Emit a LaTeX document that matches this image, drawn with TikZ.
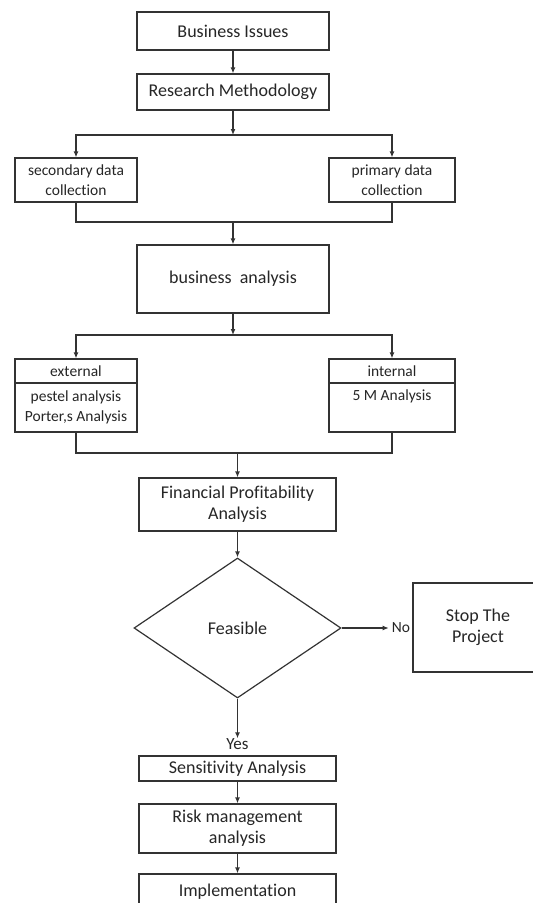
\documentclass[tikz,border=0pt]{standalone}
\usepackage{fontspec}
\setmainfont[Ligatures=NoCommon]{Carlito}
\usetikzlibrary{shapes.geometric,arrows.meta}
\begin{document}
\begin{tikzpicture}[x=1pt,y=-1pt]

\tikzstyle{box} = [draw=black!80, line width=1.2pt, fill=white, align=center,
  inner sep=0pt, text=black!85, font=\fontsize{18}{21}\selectfont]
\tikzstyle{sidebox} = [box, font=\fontsize{15.5}{20}\selectfont]
\tikzstyle{txt} = [anchor=center, text=black!85, inner sep=0pt,
  font=\fontsize{15.5}{20}\selectfont, align=center]
\tikzstyle{link} = [draw=black!80, line width=1.2pt]
\tikzstyle{arr} = [link, -{Latex[length=6pt,width=5pt]}]

\useasboundingbox (0,0) rectangle (533,903);

\node[box, at={(233,31)}, minimum width=192, minimum height=38] (issues) {Business Issues};
\node[box, at={(233,92)}, minimum width=192, minimum height=36] (method) {Research Methodology};
\node[sidebox, at={(76,180)}, minimum width=122, minimum height=44] (second) {secondary data\\collection};
\node[sidebox, at={(392,180)}, minimum width=126, minimum height=44] (primary) {primary data\\collection};
\node[box, at={(233,279)}, minimum width=192, minimum height=68] (busan) {business\ \ analysis};

% external / internal boxes with header row
\node[sidebox, at={(76,395.5)}, minimum width=122, minimum height=73] (ext) {};
\node[sidebox, at={(392,395.5)}, minimum width=126, minimum height=73] (int) {};
\draw[link] (ext.west |- 0,383) -- (ext.east |- 0,383);
\draw[link] (int.west |- 0,383) -- (int.east |- 0,383);
\node[txt, at={(76,371)}] (exthead) {external};
\node[txt, at={(76,407.5)}] (extbody) {pestel analysis\\Porter,s Analysis};
\node[txt, at={(392,371)}] (inthead) {internal};
\node[txt, at={(392,396)}] (intbody) {5 M Analysis};

\node[box, at={(237.5,504.5)}, minimum width=197, minimum height=53] (finance) {Financial Profitability\\Analysis};
\node[box, diamond, at={(237.5,628)}, minimum width=207, minimum height=140] (feasible) {Feasible};
\node[txt, at={(401,628)}] (no) {No};
\node[box, at={(478,627.5)}, minimum width=130, minimum height=89] (stop) {Stop The\\Project};
\node[txt, font=\fontsize{17}{20}\selectfont, at={(237.5,744)}] (yes) {Yes};
\node[box, at={(237.5,768.5)}, minimum width=197, minimum height=25] (sens) {Sensitivity Analysis};
\node[box, at={(237.5,828.5)}, minimum width=197, minimum height=49] (risk) {Risk management\\analysis};
\node[box, at={(237.5,892)}, minimum width=197, minimum height=36] (impl) {Implementation};

\coordinate (split1) at (233,135);
\coordinate (merge1) at (233,222);
\coordinate (split2) at (233,335);
\coordinate (merge2) at (237.5,453);

\draw[arr] (issues) -- (method);
\draw[arr] (method) -- (split1);
\draw[arr] (split1) -| (second.north);
\draw[arr] (split1) -| (primary.north);
\draw[link] (second.south) |- (merge1) -| (primary.south);
\draw[arr] (merge1) -- (busan);
\draw[arr] (busan) -- (split2);
\draw[arr] (split2) -| (ext.north);
\draw[arr] (split2) -| (int.north);
\draw[link] (ext.south) |- (merge2) -| (int.south);
\draw[arr] (merge2) -- (finance);
\draw[arr] (finance) -- (feasible);
\draw[arr, shorten >=3pt] (feasible.east) -- (no.west);
\draw[arr] (feasible.south) -- (yes.north);
\draw[arr] (sens) -- (risk);
\draw[arr] (risk) -- (impl);

\end{tikzpicture}
\end{document}
